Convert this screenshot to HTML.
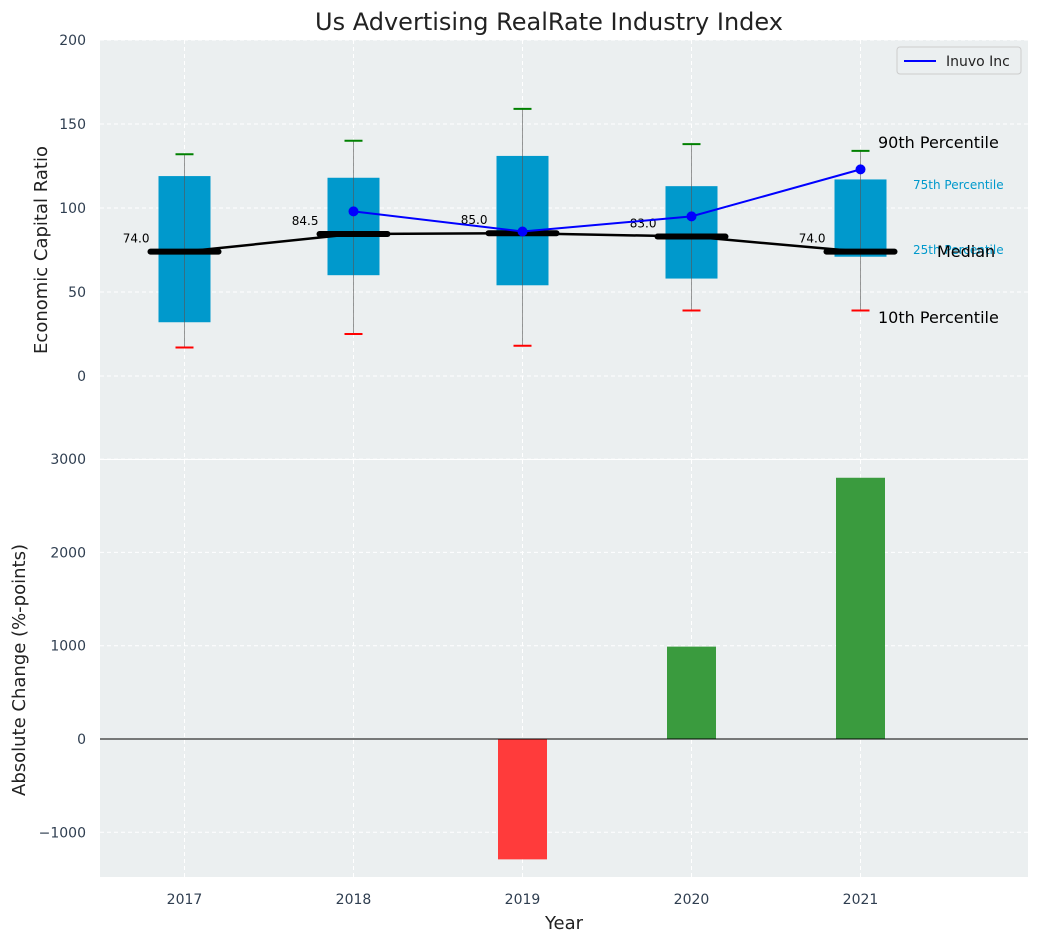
<!DOCTYPE html>
<html><head><meta charset="utf-8"><style>
body{margin:0;background:#fff;font-family:"Liberation Sans","DejaVu Sans",sans-serif}
svg text{font-family:"DejaVu Sans","Liberation Sans",sans-serif}
</style></head><body>
<svg id="chart" width="1039" height="942" viewBox="0 0 1039 942">
<text x="549" y="30" font-size="24" text-anchor="middle" fill="#222">Us Advertising RealRate Industry Index</text>
<rect x="100" y="40" width="928" height="419" fill="#ebeff0"/>
<rect x="100" y="460" width="928" height="417" fill="#ebeff0"/>
<g id="gtop"></g><g id="gbot"></g>
<text x="47" y="250" font-size="18" text-anchor="middle" fill="#222" transform="rotate(-90 47 250)">Economic Capital Ratio</text>
<text x="25" y="670" font-size="18" text-anchor="middle" fill="#222" transform="rotate(-90 25 670)">Absolute Change (%-points)</text>
<text x="564" y="929" font-size="18" text-anchor="middle" fill="#222">Year</text>
<g>
<rect x="897" y="47" width="124" height="27" rx="3" fill="#ebeff0" stroke="#ccc"/>
<line x1="904" y1="61" x2="936" y2="61" stroke="#0000ff" stroke-width="2"/>
<text x="946" y="66" font-size="14" fill="#222">Inuvo Inc</text>
</g>
<g font-size="16" fill="#000">
<text x="878" y="148">90th Percentile</text>
<text x="913" y="189" font-size="12" fill="#0099cc">75th Percentile</text>
<text x="913" y="254" font-size="12" fill="#0099cc">25th Percentile</text>
<text x="937" y="257">Median</text>
<text x="878" y="323">10th Percentile</text>
</g>
</svg>
<script>
const years=[2017,2018,2019,2020,2021];
const q1=[32,60,54,58,71];
const q3=[119,118,131,113,117];
const p10=[17,25,18,39,39];
const p90=[132,140,159,138,134];
const medians=[74,84.5,85,83,74];
const inuvoYears=[2018,2019,2020,2021];
const inuvo=[98,86,95,123];
const changes=[null,null,-1290,990,2800];
const topTicks=[0,50,100,150,200];
const botTicks=[-1000,0,1000,2000,3000];
const NS="http://www.w3.org/2000/svg";
const X=v=>100+(v-2016.5)*169;
const YT=v=>376-v*1.68;
const YB=v=>739-v*0.0933;
function mk(t,a,p){const e=document.createElementNS(NS,t);for(const k in a)e.setAttribute(k,a[k]);p.appendChild(e);return e;}
const gTop=document.getElementById('gtop'),gBot=document.getElementById('gbot');
topTicks.forEach(t=>{
 const l=mk('line',{x1:100,x2:1028,y1:YT(t),y2:YT(t),stroke:'#fff','stroke-dasharray':'4,3'},gTop);
 
 
 const tx=mk('text',{x:86,y:YT(t)+5,'font-size':14,'text-anchor':'end',fill:'#2f3e50'},gTop);tx.textContent=t;
 
 
});
botTicks.forEach(t=>{
 const l=mk('line',{x1:100,x2:1028,y1:YB(t),y2:YB(t),stroke:'#fff','stroke-dasharray':'4,3'},gBot);
 
 
 const tx=mk('text',{x:86,y:YB(t)+5,'font-size':14,'text-anchor':'end',fill:'#2f3e50'},gBot);tx.textContent=t.toString().replace('-','\u2212');
 
 
});
years.forEach(y=>{
 [gTop,gBot].forEach(g=>{const l=mk('line',{x1:X(y),x2:X(y),y1:g===gTop?40:460,y2:g===gTop?459:877,stroke:'#fff','stroke-dasharray':'4,3'},g);
 
 });
 const tx=mk('text',{x:X(y),y:904,'font-size':14,'text-anchor':'middle',fill:'#2f3e50'},gBot);tx.textContent=y;
 
 
});
years.forEach((y,i)=>{
 const x=X(y);
 const b=mk('rect',{x:x-26,y:YT(q3[i]),width:52,height:YT(q1[i])-YT(q3[i]),fill:'#0099cc'},gTop);
 
 
 const w=mk('line',{x1:x,x2:x,y1:YT(p90[i]),y2:YT(p10[i]),stroke:'#555','stroke-opacity':0.6},gTop);
 
 
 const c1=mk('line',{x1:x-9,x2:x+9,y1:YT(p90[i]),y2:YT(p90[i]),stroke:'green','stroke-width':2},gTop);
 
 
 const c2=mk('line',{x1:x-9,x2:x+9,y1:YT(p10[i]),y2:YT(p10[i]),stroke:'red','stroke-width':2},gTop);
 
 
 const m=mk('line',{x1:x-34,x2:x+34,y1:YT(medians[i]),y2:YT(medians[i]),stroke:'#000','stroke-width':6,'stroke-linecap':'round'},gTop);
 
 
 const t=mk('text',{x:x-35,y:YT(medians[i])-9,'font-size':12,'text-anchor':'end',fill:'#000'},gTop);t.textContent=medians[i].toFixed(1);
 
 
});
const ml=mk('polyline',{points:years.map((y,i)=>X(y)+','+YT(medians[i])).join(' '),fill:'none',stroke:'#000','stroke-width':2.5},gTop);


const il=mk('polyline',{points:inuvoYears.map((y,i)=>X(y)+','+YT(inuvo[i])).join(' '),fill:'none',stroke:'#0000ff','stroke-width':2},gTop);


inuvoYears.forEach((y,i)=>{const c=mk('circle',{cx:X(y),cy:YT(inuvo[i]),r:5,fill:'#0000ff'},gTop);
 
 });
years.forEach((y,i)=>{
 const v=changes[i];if(v===null)return;
 const r=mk('rect',{x:X(y)-24.5,y:Math.min(YB(v),YB(0)),width:49,height:Math.abs(YB(v)-YB(0)),fill:v<0?'#ff3b3b':'#3a9b3e'},gBot);
 
 
});
const z=mk('line',{x1:100,x2:1028,y1:YB(0),y2:YB(0),stroke:'#000','stroke-width':1},gBot);


</script>
</body></html>
